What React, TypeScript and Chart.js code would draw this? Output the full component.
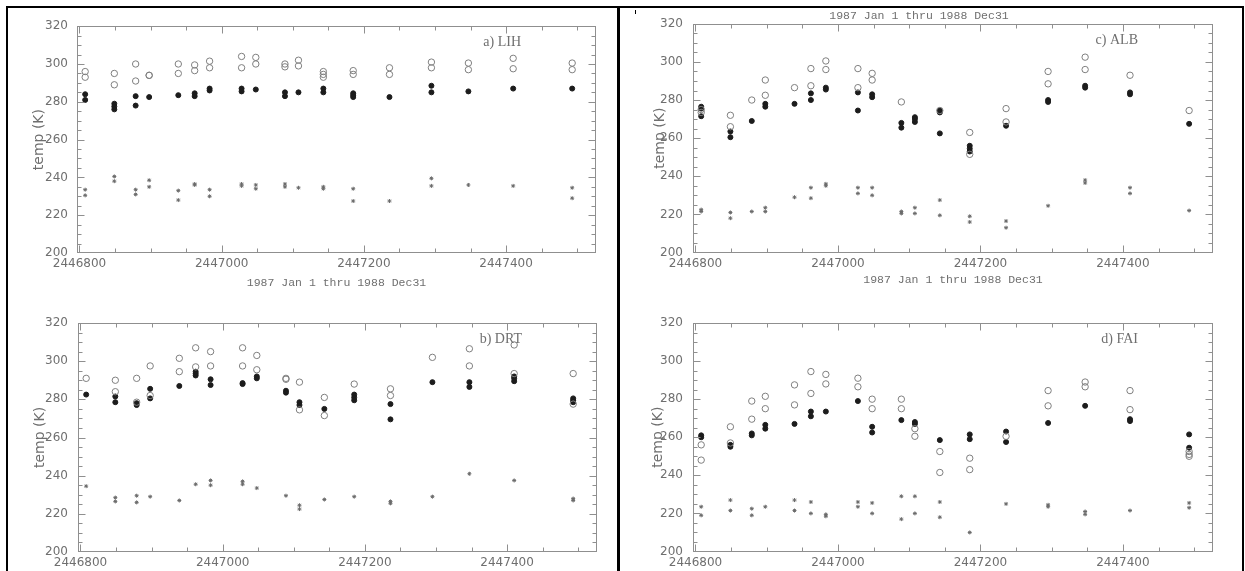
import React, { useEffect, useRef } from "react";
import { Chart, registerables } from "chart.js";
Chart.register(...registerables);

// Julian-day dates of the measurement columns (shared by all four stations)
const dates = [2446808, 2446849, 2446879, 2446898, 2446939, 2446962, 2446983, 2447028, 2447048, 2447089, 2447108, 2447143, 2447185, 2447236, 2447295, 2447347, 2447410, 2447493];

const xMajorTicks = [2446800, 2447000, 2447200, 2447400];
const yTicks = [200, 220, 240, 260, 280, 300, 320];
const caption = "1987 Jan 1 thru 1988 Dec31";
const yTitle = "temp (K)";

// a) LIH
const lihOpen = [[296, 293], [295, 289], [300, 291], [294, 294], [300, 295], [299.5, 296.5], [301.5, 298], [304, 298], [303.5, 300], [300, 298.5], [302, 299], [296, 294.5, 293], [296.5, 294.5], [298, 294.5], [301, 298], [300.5, 297], [303, 297.5], [300.5, 297]];
const lihFilled = [[284, 281], [279, 277.5, 276], [283, 278], [282.5], [283.5], [284.5, 283], [287, 286], [287, 285.5], [286.5], [285, 283], [285], [287, 285], [284.5, 283.5, 282.5], [282.5], [288.5, 285], [285.5], [287], [287]];
const lihCross = [[233.5, 230.5], [240.5, 238], [233.5, 231], [238.5, 235], [233, 228], [236.5, 236], [233.5, 230], [236.5, 235.5], [236, 234], [236.5, 235], [234.5], [235, 234], [234, 227.5], [227.5], [239.5, 235.5], [236], [235.5], [234.5, 229]];

// b) DRT
const drtOpen = [[291], [290, 284], [291, 278.5], [297.5, 282], [301.5, 294.5], [307, 297], [305, 297.5], [307, 297.5], [303, 295.5], [291, 290.5], [289, 274.5], [281, 271.5], [288], [285.5, 282], [302], [306.5, 297.5], [308.5, 293.5], [293.5, 277.5]];
const drtFilled = [[282.5], [281.5, 278.5], [278, 277], [285.5, 280.5], [287], [294.5, 293.5, 292.5], [290.5, 287.5], [288.5, 288], [292, 291], [284.5, 283.5], [278.5, 277], [275], [282.5, 281, 279.5], [277.5, 269.5], [289], [289, 286.5], [292, 291, 289.5], [280.5, 279.5, 278.5]];
const drtCross = [[234.5], [228.5, 226.5], [229.5, 226], [229], [227], [235.5], [237.5, 235], [237, 235.5], [233.5], [229.5], [224.5, 222.5], [227.5], [229], [226.5, 225.5], [229], [241], [237.5], [228, 227]];

// c) ALB
const albOpen = [[275, 273.5], [272, 266], [280], [290.5, 282.5], [286.5], [296.5, 287.5], [300.5, 296], [296.5, 286.5], [294, 290.5], [279], [], [274.5], [263, 251.5], [275.5, 268.5], [295, 288.5], [302.5, 296], [293], [274.5]];
const albFilled = [[276.5, 275.5, 271.5], [263.5, 260.5], [269], [278, 276.5], [278], [283.5, 280], [286.5, 285.5], [284, 274.5], [283, 281.5], [268, 265.5], [271, 270, 268.5], [274.5, 273.5, 262.5], [256, 254.5, 253], [266.5], [280, 279], [287.5, 286.5], [284, 283], [267.5]];
const albCross = [[222.5, 221.5], [221, 218], [221.5], [223.5, 221.5], [229], [234, 228.5], [236, 235], [234, 231], [234, 230], [221.5, 220.5], [223.5, 220.5], [227.5, 219.5], [219, 216], [216.5, 213], [224.5], [238, 236.5], [234, 231], [222]];

// d) FAI
const faiOpen = [[256, 248], [265.5, 257], [279, 269.5], [281.5, 275], [287.5, 277], [294.5, 283], [293, 288], [291, 286.5], [280, 275], [280, 275], [264.5, 260.5], [252.5, 241.5], [249, 243], [260.5], [284.5, 276.5], [289, 286.5], [284.5, 274.5], [252.5, 251, 250]];
const faiFilled = [[261, 260], [256, 255], [262, 261], [266.5, 264.5], [267], [273.5, 271], [273.5], [279], [265.5, 262.5], [269], [268, 267], [258.5], [261.5, 259], [263, 257.5], [267.5], [276.5], [269.5, 268.5], [261.5, 254.5]];
const faiCross = [[223.5, 219], [227, 221.5], [222.5, 219], [223.5], [227, 221.5], [226, 220], [219.5, 218.5], [226, 223.5], [225.5, 220], [229, 217], [229, 220], [226, 218], [210], [225], [224.5, 223.5], [221, 219.5], [221.5], [225.5, 223]];

const X_MIN = 2446796.5;
const X_MAX = 2447526.5;

function toPoints(vals: number[][]) {
  const pts: { x: number; y: number }[] = [];
  vals.forEach((col, i) => col.forEach((v) => pts.push({ x: dates[i], y: v })));
  return pts;
}

const FRAME = "#8f8f8f";
const TEXT = "#6f6f6f";

const framePlugin = {
  id: "frame",
  afterDraw(chart: any, _args: any, opts: any) {
    const { ctx, chartArea: a, scales } = chart;
    const xs = scales.x;
    const ys = scales.y;
    const L = Math.round(a.left) + 0.5;
    const R = Math.round(a.right) - 0.5;
    const T = Math.round(a.top) + 0.5;
    const B = Math.round(a.bottom) - 0.5;
    ctx.save();
    ctx.strokeStyle = FRAME;
    ctx.lineWidth = 1;
    ctx.strokeRect(L, T, R - L, B - T);
    ctx.beginPath();
    for (let v = 2446800; v <= 2447500; v += 50) {
      const px = Math.round(xs.getPixelForValue(v)) + 0.5;
      const len = v % 200 === 0 ? 7 : 4;
      ctx.moveTo(px, B);
      ctx.lineTo(px, B - len);
      ctx.moveTo(px, T);
      ctx.lineTo(px, T + len);
    }
    for (let v = 205; v < 320; v += 5) {
      const py = Math.round(ys.getPixelForValue(v)) + 0.5;
      const len = v % 20 === 0 ? 7 : 4;
      ctx.moveTo(L, py);
      ctx.lineTo(L + len, py);
      ctx.moveTo(R, py);
      ctx.lineTo(R - len, py);
    }
    ctx.stroke();
    if (opts && opts.label) {
      ctx.fillStyle = TEXT;
      ctx.font = "14px 'Liberation Serif'";
      ctx.textAlign = "right";
      ctx.textBaseline = "alphabetic";
      ctx.fillText(opts.label, a.right - 75, a.top + 20);
    }
    ctx.restore();
  },
};

type PanelCfg = {
  left: number; top: number; w: number; h: number;
  yw: number; pr: number; pt: number; xh: number;
  yPad: number; titlePad: number;
  captionBottom: number | null; captionTop: boolean;
  label: string; open: number[][]; filled: number[][]; cross: number[][];
};

const panels: PanelCfg[] = [
  { left: 10, top: 10, w: 600, h: 290, yw: 67, pr: 14, pt: 14, xh: 47, yPad: 9, titlePad: 20.6, captionBottom: 10, captionTop: false, label: "a) LIH", open: lihOpen, filled: lihFilled, cross: lihCross },
  { left: 10, top: 300, w: 600, h: 271, yw: 68, pr: 13, pt: 23, xh: 19, yPad: 10, titlePad: 21.6, captionBottom: null, captionTop: false, label: "b) DRT", open: drtOpen, filled: drtFilled, cross: drtCross },
  { left: 625, top: 0, w: 610, h: 300, yw: 68, pr: 22, pt: 0, xh: 47.5, yPad: 10, titlePad: 26.6, captionBottom: 13, captionTop: true, label: "c) ALB", open: albOpen, filled: albFilled, cross: albCross },
  { left: 625, top: 300, w: 610, h: 271, yw: 68, pr: 22, pt: 23, xh: 19.5, yPad: 10, titlePad: 24.6, captionBottom: null, captionTop: false, label: "d) FAI", open: faiOpen, filled: faiFilled, cross: faiCross },
];

function Panel({ cfg }: { cfg: PanelCfg }) {
  const ref = useRef<HTMLCanvasElement>(null);
  useEffect(() => {
    const tickFont = { family: "'DejaVu Sans'", size: 12 };
    const capFont = { family: "'Liberation Mono'", size: 11.5 };
    const chart = new Chart(ref.current as HTMLCanvasElement, {
      type: "scatter",
      data: {
        datasets: [
          { data: toPoints(cfg.open), pointStyle: "circle", pointRadius: 3.2, borderColor: "#7f7f7f", backgroundColor: "rgba(0,0,0,0)", borderWidth: 1 },
          { data: toPoints(cfg.filled), pointStyle: "circle", pointRadius: 2.5, borderColor: "#1c1c1c", backgroundColor: "#1c1c1c", borderWidth: 1 },
          { data: toPoints(cfg.cross), pointStyle: "star", pointRadius: 2, borderColor: "#6a6a6a", backgroundColor: "#6a6a6a", borderWidth: 1 },
        ],
      },
      options: {
        animation: false,
        responsive: false,
        maintainAspectRatio: false,
        events: [],
        layout: { padding: { left: 0, right: cfg.pr, top: cfg.pt, bottom: 0 } },
        plugins: {
          legend: { display: false },
          tooltip: { enabled: false },
          title: { display: cfg.captionTop, text: caption, color: TEXT, font: { ...capFont, weight: "normal" }, padding: { top: 9, bottom: 1 } },
          frame: { label: cfg.label },
        } as any,
        scales: {
          x: {
            type: "linear",
            min: X_MIN,
            max: X_MAX,
            bounds: "data",
            grid: { display: false, drawTicks: false },
            border: { display: false },
            afterBuildTicks: (s: any) => { s.ticks = xMajorTicks.map((v) => ({ value: v })); },
            afterFit: (s: any) => { s.height = cfg.xh; },
            ticks: { padding: 4, color: TEXT, font: tickFont, autoSkip: false, maxRotation: 0, callback: (v: any) => String(v) },
            title: { display: cfg.captionBottom !== null, text: caption, color: TEXT, font: capFont, padding: { top: 0, bottom: cfg.captionBottom ?? 0 } },
          },
          y: {
            type: "linear",
            min: 200,
            max: 320,
            bounds: "data",
            grid: { display: false, drawTicks: false },
            border: { display: false },
            afterBuildTicks: (s: any) => { s.ticks = yTicks.map((v) => ({ value: v })); },
            afterFit: (s: any) => { s.width = cfg.yw; },
            ticks: { padding: cfg.yPad, color: TEXT, font: tickFont, callback: (v: any) => String(v) },
            title: { display: true, text: yTitle, color: TEXT, font: { family: "'DejaVu Sans'", size: 14 }, padding: { top: cfg.titlePad, bottom: 0 } },
          },
        },
      } as any,
      plugins: [framePlugin as any],
    });
    return () => chart.destroy();
  }, []);
  return (
    <canvas
      ref={ref}
      width={cfg.w}
      height={cfg.h}
      style={{ position: "absolute", left: cfg.left, top: cfg.top, width: cfg.w, height: cfg.h }}
    />
  );
}

export default function App() {
  const line = (l: number, t: number, w: number, h: number) => (
    <div style={{ position: "absolute", left: l, top: t, width: w, height: h, background: "#000" }} />
  );
  return (
    <div style={{ position: "absolute", left: 0, top: 0, width: 1245, height: 571, overflow: "hidden", background: "#fff" }}>
      {panels.map((p) => (
        <Panel key={p.label} cfg={p} />
      ))}
      {line(6, 6, 1238, 2)}
      {line(6, 6, 2, 565)}
      {line(617, 6, 3, 565)}
      {line(1242, 6, 2, 565)}
      {line(635, 10, 1, 4)}
    </div>
  );
}
